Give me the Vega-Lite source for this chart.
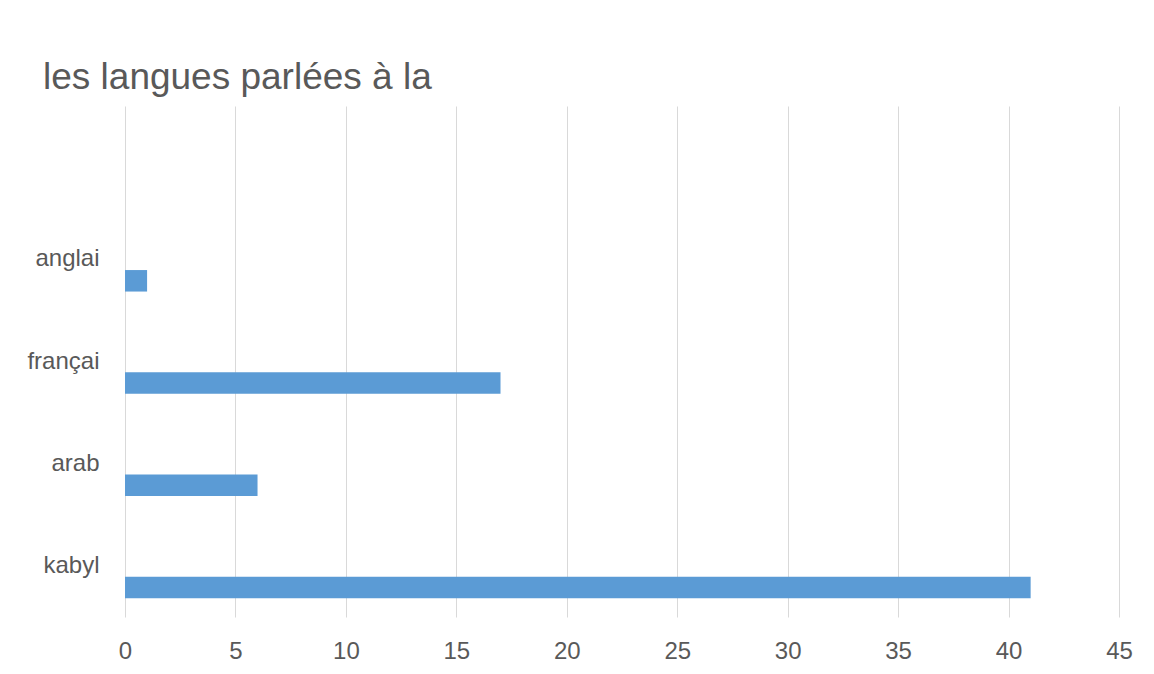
{
  "$schema": "https://vega.github.io/schema/vega-lite/v6.json",
  "autosize": "none",
  "padding": {"left": 125, "top": 106, "right": 35, "bottom": 57},
  "width": 994,
  "height": 511,
  "background": "white",
  "title": {
    "text": "les langues parlées à la",
    "anchor": "start",
    "frame": "group",
    "dx": -82,
    "offset": -20,
    "baseline": "alphabetic",
    "font": "Liberation Sans",
    "fontSize": 37,
    "fontWeight": "normal",
    "color": "#595959"
  },
  "data": {
    "values": [
      {"langue": "anglai", "nombre": 1},
      {"langue": "françai", "nombre": 17},
      {"langue": "arab", "nombre": 6},
      {"langue": "kabyl", "nombre": 41}
    ]
  },
  "mark": {"type": "bar", "color": "#5B9BD5", "height": 21.5, "yOffset": 21.5},
  "encoding": {
    "y": {
      "field": "langue",
      "type": "nominal",
      "sort": null,
      "scale": {"domain": [" ", "anglai", "françai", "arab", "kabyl"], "paddingInner": 0, "paddingOuter": 0},
      "axis": {
        "title": null,
        "domain": false,
        "ticks": false,
        "tickSize": 0,
        "grid": false,
        "labelPadding": 26,
        "labelFont": "Liberation Sans",
        "labelFontSize": 24,
        "labelColor": "#595959",
        "labelBaseline": "middle"
      }
    },
    "x": {
      "field": "nombre",
      "type": "quantitative",
      "scale": {"domain": [0, 45], "nice": false, "zero": true},
      "axis": {
        "title": null,
        "values": [0, 5, 10, 15, 20, 25, 30, 35, 40, 45],
        "domain": false,
        "ticks": false,
        "tickSize": 0,
        "grid": true,
        "gridColor": "#D9D9D9",
        "gridWidth": 1,
        "labelPadding": 41,
        "labelBaseline": "alphabetic",
        "labelFont": "Liberation Sans",
        "labelFontSize": 24,
        "labelColor": "#595959",
        "labelFlush": false
      }
    }
  },
  "config": {"view": {"stroke": null}}
}
